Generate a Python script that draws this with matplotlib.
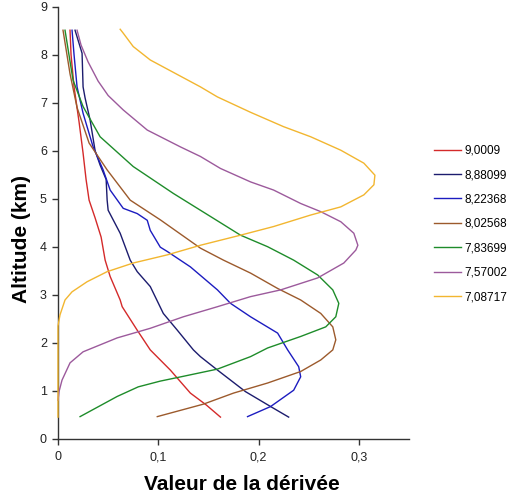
import numpy as np
import matplotlib.pyplot as plt
from matplotlib.ticker import FixedLocator

plt.rcParams['font.family'] = ['Liberation Sans', 'DejaVu Sans']

# profils de la dérivée (x) en fonction de l'altitude (km)
x_9_0009 = [0.162, 0.148, 0.132, 0.112, 0.092, 0.079, 0.064, 0.062, 0.052, 0.047,
            0.043, 0.037, 0.031, 0.028, 0.025, 0.021, 0.016, 0.013, 0.012]
z_9_0009 = [0.45, 0.70, 0.95, 1.43, 1.85, 2.26, 2.75, 2.89, 3.38, 3.72,
            4.20, 4.60, 4.97, 5.40, 5.95, 6.60, 7.33, 8.00, 8.51]

x_8_88099 = [0.230, 0.212, 0.187, 0.159, 0.142, 0.135, 0.119, 0.105, 0.092, 0.079,
             0.072, 0.062, 0.050, 0.049, 0.048, 0.042, 0.037, 0.032, 0.027, 0.025,
             0.024, 0.017]
z_8_88099 = [0.45, 0.67, 0.98, 1.43, 1.71, 1.85, 2.26, 2.61, 3.17, 3.48,
             3.72, 4.28, 4.76, 4.97, 5.40, 5.70, 6.00, 6.64, 7.10, 7.33,
             8.03, 8.51]

x_8_22368 = [0.189, 0.212, 0.235, 0.242, 0.240, 0.229, 0.219, 0.192, 0.172, 0.159,
             0.132, 0.109, 0.102, 0.092, 0.089, 0.079, 0.065, 0.052, 0.045, 0.035,
             0.025, 0.019, 0.016, 0.014]
z_8_22368 = [0.46, 0.67, 1.01, 1.29, 1.50, 1.85, 2.20, 2.54, 2.82, 3.10,
             3.58, 3.90, 3.99, 4.34, 4.55, 4.69, 4.80, 5.18, 5.60, 6.08,
             6.78, 7.33, 8.00, 8.51]

x_8_02568 = [0.099, 0.145, 0.175, 0.209, 0.242, 0.262, 0.274, 0.277, 0.274, 0.262,
             0.242, 0.219, 0.192, 0.165, 0.142, 0.102, 0.072, 0.049, 0.031, 0.019,
             0.012, 0.005]
z_8_02568 = [0.46, 0.72, 0.95, 1.16, 1.40, 1.64, 1.85, 2.06, 2.33, 2.61,
             2.89, 3.13, 3.45, 3.72, 3.97, 4.56, 4.97, 5.60, 6.16, 6.90,
             7.60, 8.51]

x_7_83699 = [0.022, 0.059, 0.080, 0.102, 0.125, 0.159, 0.192, 0.209, 0.242, 0.267,
             0.277, 0.280, 0.274, 0.259, 0.235, 0.209, 0.182, 0.152, 0.115, 0.075,
             0.042, 0.025, 0.015, 0.007]
z_7_83699 = [0.46, 0.88, 1.08, 1.20, 1.30, 1.45, 1.71, 1.89, 2.13, 2.33,
             2.54, 2.82, 3.10, 3.41, 3.72, 4.00, 4.24, 4.63, 5.11, 5.67,
             6.29, 6.92, 7.47, 8.51]

x_7_57002 = [0.000, 0.001, 0.004, 0.012, 0.025, 0.059, 0.092, 0.125, 0.159, 0.192,
             0.222, 0.259, 0.285, 0.297, 0.299, 0.295, 0.282, 0.262, 0.242, 0.215,
             0.192, 0.162, 0.142, 0.122, 0.089, 0.065, 0.050, 0.040, 0.030, 0.023,
             0.019]
z_7_57002 = [0.80, 0.98, 1.22, 1.58, 1.81, 2.10, 2.30, 2.54, 2.75, 2.96,
             3.10, 3.35, 3.66, 3.93, 4.03, 4.28, 4.52, 4.73, 4.90, 5.18,
             5.35, 5.63, 5.88, 6.08, 6.43, 6.85, 7.15, 7.45, 7.85, 8.20,
             8.51]

x_7_08717 = [0.000, 0.000, 0.002, 0.007, 0.014, 0.029, 0.049, 0.075, 0.109, 0.142,
             0.182, 0.215, 0.252, 0.282, 0.305, 0.315, 0.316, 0.305, 0.282, 0.252,
             0.225, 0.192, 0.159, 0.142, 0.092, 0.075, 0.065, 0.062]
z_7_08717 = [0.45, 2.35, 2.58, 2.89, 3.06, 3.27, 3.48, 3.66, 3.83, 4.03,
             4.24, 4.42, 4.66, 4.83, 5.08, 5.29, 5.49, 5.74, 6.01, 6.29,
             6.50, 6.80, 7.12, 7.33, 7.89, 8.17, 8.45, 8.53]

labels = ['9,0009', '8,88099', '8,22368', '8,02568', '7,83699', '7,57002', '7,08717']
xs = [x_9_0009, x_8_88099, x_8_22368, x_8_02568, x_7_83699, x_7_57002, x_7_08717]
zs = [z_9_0009, z_8_88099, z_8_22368, z_8_02568, z_7_83699, z_7_57002, z_7_08717]
couleurs = ['#d42a2a', '#1c1c6e', '#1c1cc0', '#9c5a2c', '#1e8c2a', '#9c5a9c', '#f2b630']

xticks = [0, 0.1, 0.2, 0.3]
xticklabels = ['0', '0,1', '0,2', '0,3']
yticks = [0, 1, 2, 3, 4, 5, 6, 7, 8, 9]

fig = plt.figure(figsize=(5.07, 5.03), dpi=100)
ax = fig.add_axes([58/507, 1-438.7/503, 351/507, 432/503])

for x, z, lab, c in zip(xs, zs, labels, couleurs):
    ax.plot(x, z, color=c, lw=1.0, label=lab, clip_on=False, zorder=3)

ax.set_xlim(0, 0.35)
ax.set_ylim(0, 9)
ax.xaxis.set_major_locator(FixedLocator(xticks))
ax.set_xticklabels(xticklabels)
ax.yaxis.set_major_locator(FixedLocator(yticks))
ax.spines['top'].set_visible(False)
ax.spines['right'].set_visible(False)
for s in ['left', 'bottom']:
    ax.spines[s].set_color('#333333')
    ax.spines[s].set_linewidth(1.0)
ax.tick_params(direction='out', length=4, width=1, colors='#333333',
               labelcolor='#222222', labelsize=9)
ax.tick_params(axis='x', pad=5)
ax.tick_params(axis='y', pad=4)

ax.set_xlabel('Valeur de la dérivée', fontsize=15, fontweight='bold')
ax.set_ylabel('Altitude (km)', fontsize=15, fontweight='bold')
ax.xaxis.set_label_coords((241.5-58)/351, -(484-438.7)/432)
ax.yaxis.set_label_coords((22-58)/351, (438.7-239)/432)
ax.xaxis.label.set_va('center')
ax.yaxis.label.set_va('center')

ax.legend(loc='center left', bbox_to_anchor=(428/507, 1-224/503),
          bbox_transform=fig.transFigure, frameon=False, fontsize=8.5,
          handlelength=2.3, handletextpad=0.3, labelspacing=1.05, borderpad=0)

fig.savefig('out.png', dpi=100)
